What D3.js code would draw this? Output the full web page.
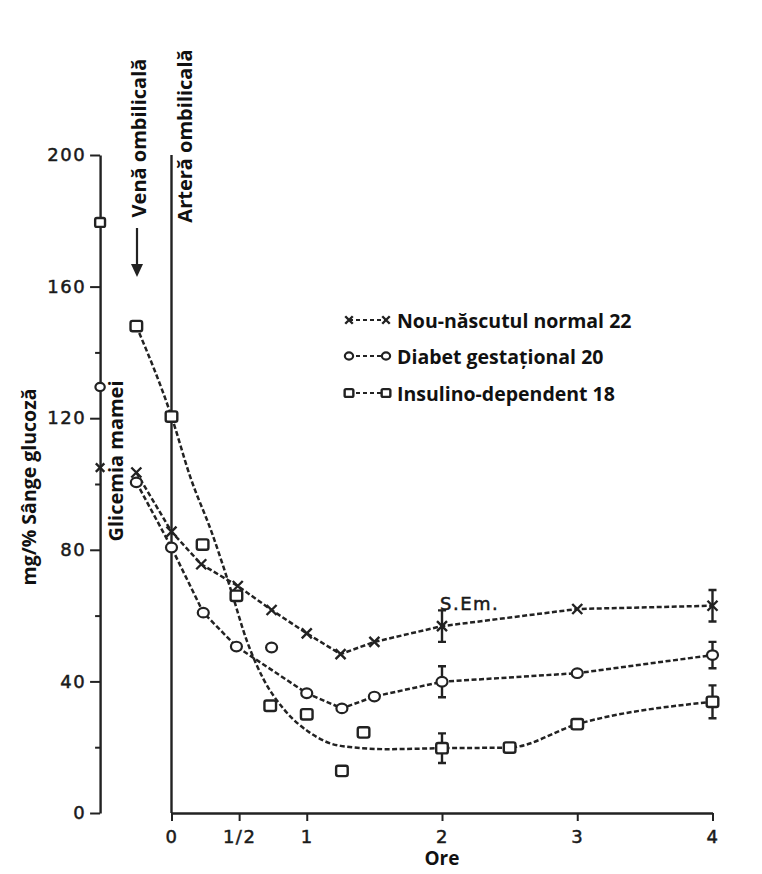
<!DOCTYPE html>
<html>
<head>
<meta charset="utf-8">
<script src="https://cdn.jsdelivr.net/npm/d3@7"></script>
<style>
body { margin: 0; background: #fff; }
.tick text, .lettering { font-family: "DejaVu Sans", sans-serif; font-size: 18px; fill: #1a1a1a; stroke: #1a1a1a; stroke-width: 0.5px; letter-spacing: 1.5px; }
.bold { font-family: "Open Sans", sans-serif; font-weight: 700; fill: #111; }
</style>
</head>
<body>
<svg id="chart" width="762" height="874"></svg>
<script>
// time positions (hours); negative ones are the maternal and venous columns
var maternalT = -0.528;
var venaT = -0.26;

var seriesNames = ["Nou-născutul normal 22", "Diabet gestațional 20", "Insulino-dependent 18"];
var yTicks = [0, 40, 80, 120, 160, 200];
var yMinorTicks = [20, 60, 100, 140, 180];
var xTicks = [0, 0.5, 1, 2, 3, 4];
var xTickLabels = ["0", "1/2", "1", "2", "3", "4"];

// maternal glycemia (plotted on the left axis)
var maternalV = [105, 129.5, 179.5];

// normal newborns
var normalT = [venaT, 0, 0.22, 0.49, 0.74, 1, 1.25, 1.5, 2, 3, 4];
var normalV = [103.5, 85.5, 75.6, 69, 61.7, 54.6, 48.3, 52, 56.8, 62, 63];

// gestational diabetes
var gestT = [venaT, 0, 0.235, 0.48, 1, 1.26, 1.5, 2, 3, 4];
var gestV = [100.5, 80.7, 60.9, 50.6, 36.4, 31.8, 35.4, 39.9, 42.5, 48];
var gestLooseT = [0.74];
var gestLooseV = [50.3];

// insulin dependent
var insT = [venaT, 0, 2, 2.5, 3, 4];
var insV = [148, 120.5, 19.7, 19.9, 27, 33.8];
var insLooseT = [0.23, 0.48, 0.73, 1, 1.26, 1.42];
var insLooseV = [81.6, 66, 32.6, 30, 12.8, 24.5];
// hand drawn fit through the insulin dependent group
var insCurveT = [venaT, 0, 0.14, 0.3, 0.43, 0.56, 0.68, 0.83, 1.02, 1.25, 1.6, 2, 2.5, 3, 4];
var insCurveV = [148, 120.5, 102, 85, 69, 52, 40.7, 31.6, 24.5, 20.4, 19.4, 19.7, 19.9, 27, 33.8];

// standard error bars
var semT = [2, 4];
var normalSem = [4.8, 4.8];
var gestSem = [4.7, 4];
var insSem = [4.5, 5];

var ink = "#222";
var svg = d3.select("#chart");

var x = d3.scaleLinear().domain([0, 4]).range([171.5, 712.5]);
var y = d3.scaleLinear().domain([0, 200]).range([813, 155]);

function marker(g, type, cx, cy, s){
	s = s || 1;
	if(type === "x"){
		g.append("path")
			.attr("d", "M" + (cx - 5*s) + "," + (cy - 5*s) + "L" + (cx + 5*s) + "," + (cy + 5*s) +
				"M" + (cx - 5*s) + "," + (cy + 5*s) + "L" + (cx + 5*s) + "," + (cy - 5*s))
			.attr("stroke", ink).attr("stroke-width", 2.4).attr("fill", "none");
	} else if(type === "o"){
		g.append("ellipse")
			.attr("cx", cx).attr("cy", cy).attr("rx", 5.5*s).attr("ry", 4.8*s)
			.attr("stroke", ink).attr("stroke-width", 2.2).attr("fill", "#fff");
	} else {
		g.append("rect")
			.attr("x", cx - 5.8*s).attr("y", cy - 5.2*s)
			.attr("width", 11.6*s).attr("height", 10.4*s).attr("rx", 2*s)
			.attr("stroke", ink).attr("stroke-width", 2.4).attr("fill", "#fff");
	}
}

// left axis
var yAxis = d3.axisLeft(y).tickValues(yTicks).tickSize(10).tickSizeOuter(0).tickPadding(4).tickFormat(d3.format("d"));
var ga = svg.append("g").attr("transform", "translate(" + x(maternalT) + ",0)").call(yAxis);
ga.select(".domain").attr("stroke", ink).attr("stroke-width", 2.4);
ga.selectAll(".tick line").attr("stroke", ink).attr("stroke-width", 2);
svg.append("g").attr("transform", "translate(" + x(maternalT) + ",0)")
	.call(d3.axisLeft(y).tickValues(yMinorTicks).tickSize(5).tickFormat(""))
	.call(function(g){ g.select(".domain").remove(); })
	.selectAll(".tick line").attr("stroke", ink).attr("stroke-width", 2);

// time axis
var xAxis = d3.axisBottom(x).tickValues(xTicks).tickSize(8).tickSizeOuter(0).tickPadding(9)
	.tickFormat(function(d, i){ return xTickLabels[i]; });
var gx = svg.append("g").attr("transform", "translate(0," + y(0) + ")").call(xAxis);
gx.select(".domain").attr("stroke", ink).attr("stroke-width", 2.4);
gx.selectAll(".tick line").attr("stroke", ink).attr("stroke-width", 2);

// birth line (umbilical artery)
svg.append("line")
	.attr("x1", x(0)).attr("x2", x(0)).attr("y1", y(200)).attr("y2", y(0))
	.attr("stroke", ink).attr("stroke-width", 2.4);

// dashed lines
var line = d3.line().x(function(d){ return x(d[0]); }).y(function(d){ return y(d[1]); });
var smooth = d3.line().curve(d3.curveMonotoneX).x(function(d){ return x(d[0]); }).y(function(d){ return y(d[1]); });

function dashed(path){
	return path.attr("fill", "none").attr("stroke", ink).attr("stroke-width", 2.5).attr("stroke-dasharray", "5,2.5");
}
dashed(svg.append("path").attr("d", line(d3.zip(normalT, normalV))));
dashed(svg.append("path").attr("d", line(d3.zip(gestT, gestV))));
dashed(svg.append("path").attr("d", smooth(d3.zip(insCurveT, insCurveV))));

// error bars
var semGroups = [[normalT, normalV, normalSem], [gestT, gestV, gestSem], [insT, insV, insSem]];
semGroups.forEach(function(s){
	semT.forEach(function(t, i){
		var v = s[1][s[0].indexOf(t)];
		var cx = x(t), top = y(v + s[2][i]), bot = y(v - s[2][i]);
		svg.append("path")
			.attr("d", "M" + cx + "," + top + "V" + bot + "M" + (cx - 4) + "," + top + "H" + (cx + 4) + "M" + (cx - 4) + "," + bot + "H" + (cx + 4))
			.attr("stroke", ink).attr("stroke-width", 2.4).attr("fill", "none");
	});
});

// markers
var mk = svg.append("g");
normalT.forEach(function(t, i){ marker(mk, "x", x(t), y(normalV[i])); });
gestT.forEach(function(t, i){ marker(mk, "o", x(t), y(gestV[i])); });
gestLooseT.forEach(function(t, i){ marker(mk, "o", x(t), y(gestLooseV[i])); });
insT.forEach(function(t, i){ marker(mk, "s", x(t), y(insV[i])); });
insLooseT.forEach(function(t, i){ marker(mk, "s", x(t), y(insLooseV[i])); });
["x", "o", "s"].forEach(function(type, i){ marker(mk, type, x(maternalT), y(maternalV[i]), 0.85); });

// texts
function vtext(label, cx, cy, size){
	svg.append("text").attr("class", "bold")
		.attr("transform", "translate(" + cx + "," + cy + ") rotate(-90)")
		.attr("text-anchor", "middle").attr("dominant-baseline", "central")
		.attr("font-size", size).text(label);
}
vtext("mg/% Sânge glucoză", 28, 487, 19.5);
vtext("Glicemia mamei", 115, 461, 20);
vtext("Venă ombilicală", 138, 138, 20);
vtext("Arteră ombilicală", 184, 136, 20);

svg.append("line").attr("x1", 137).attr("x2", 137).attr("y1", 228).attr("y2", 268)
	.attr("stroke", ink).attr("stroke-width", 2.2);
svg.append("path").attr("d", "M131,264L137,277L143,264Z").attr("fill", ink);

svg.append("text").attr("class", "bold").attr("x", x(2)).attr("y", 865)
	.attr("text-anchor", "middle").attr("font-size", 19).text("Ore");

svg.append("text").attr("class", "lettering").attr("x", 440).attr("y", 610).text("S.Em.");

// legend
var legendY = [320, 356, 393];
var legendTypes = ["x", "o", "s"];
seriesNames.forEach(function(name, i){
	var ly = legendY[i];
	svg.append("line").attr("x1", 349).attr("x2", 386).attr("y1", ly).attr("y2", ly)
		.attr("stroke", ink).attr("stroke-width", 2.2).attr("stroke-dasharray", "4,3");
	marker(svg, legendTypes[i], 349, ly, 0.75);
	marker(svg, legendTypes[i], 386, ly, 0.75);
	svg.append("text").attr("class", "bold").attr("x", 397).attr("y", ly)
		.attr("dominant-baseline", "central").attr("font-size", 19.5).text(name);
});
</script>
</body>
</html>
